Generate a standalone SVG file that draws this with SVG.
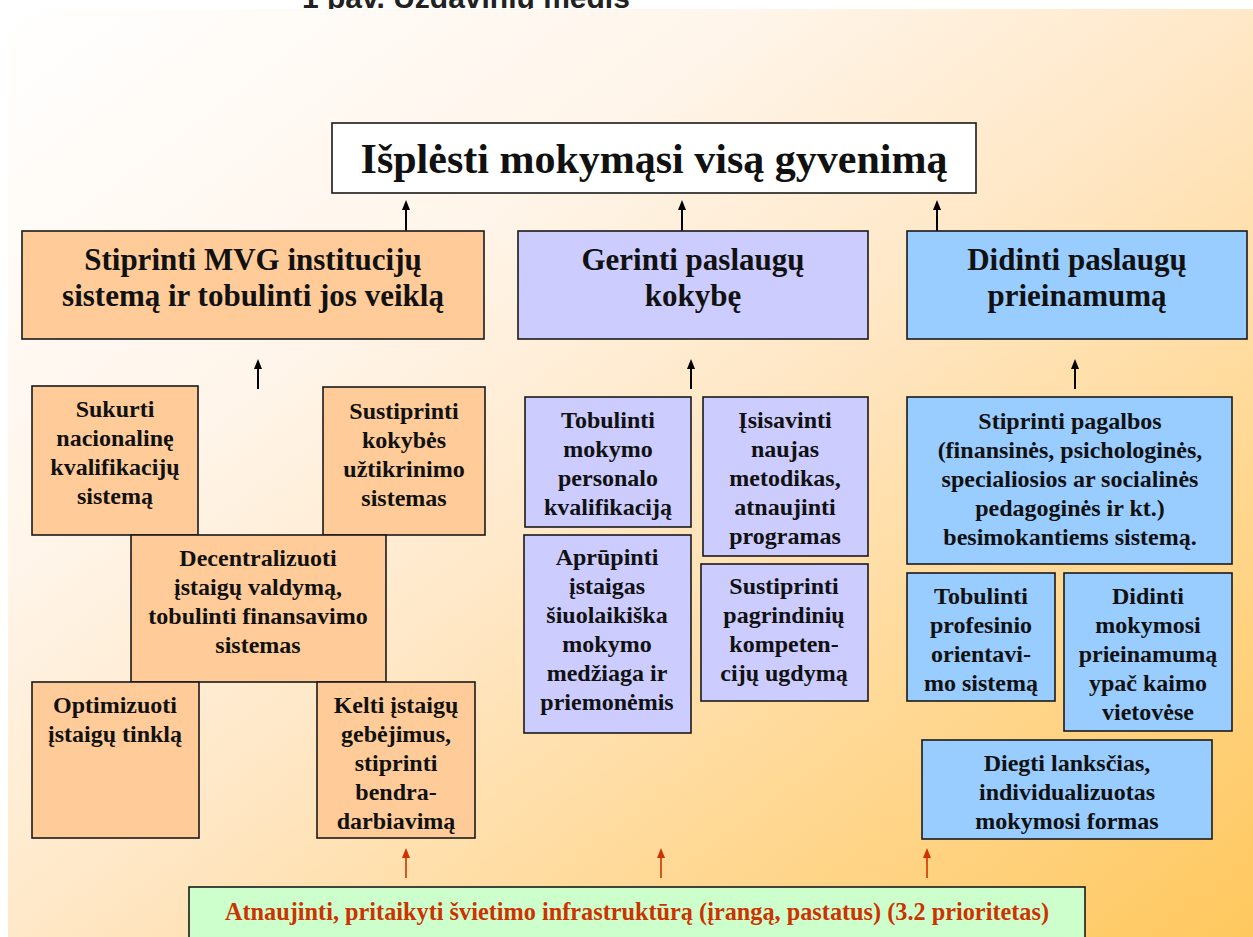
<svg xmlns="http://www.w3.org/2000/svg" width="1253" height="937" viewBox="0 0 1253 937">
<defs>
<linearGradient id="bg" x1="0" y1="0" x2="1" y2="1">
<stop offset="0" stop-color="#FFFFFF"/>
<stop offset="0.3" stop-color="#FFF5EA"/>
<stop offset="0.5" stop-color="#FFE8C8"/>
<stop offset="0.72" stop-color="#FFD997"/>
<stop offset="1" stop-color="#FFC85E"/>
</linearGradient>
<marker id="ah" viewBox="0 0 10 8" refX="3" refY="4" markerWidth="10" markerHeight="8" markerUnits="userSpaceOnUse" orient="auto">
<path d="M0,0 L10,4 L0,8 z" fill="#000"/>
</marker>
<marker id="ahr" viewBox="0 0 10 8" refX="3" refY="4" markerWidth="10" markerHeight="8" markerUnits="userSpaceOnUse" orient="auto">
<path d="M0,0 L10,4 L0,8 z" fill="#CC3300"/>
</marker>
</defs>
<style>
.box{stroke:#1a1a1a;stroke-width:1.6}
.or{fill:#FFCC99}
.pu{fill:#CCCCFF}
.bl{fill:#99CCFF}
.gr{fill:#CCFFCC}
.t{font-family:"Liberation Serif","Times New Roman",serif;font-weight:bold;fill:#111;text-anchor:middle}
.s{font-size:24px}
.m{font-size:31px}
.arr{stroke:#000;stroke-width:2;fill:none;marker-end:url(#ah)}
.arrr{stroke:#CC3300;stroke-width:1.6;fill:none;marker-end:url(#ahr)}
</style>
<rect x="0" y="0" width="1253" height="937" fill="#FFFFFF"/>
<text x="302" y="8" font-family="'Liberation Sans',Arial,sans-serif" font-weight="bold" font-size="30" fill="#222">1 pav. Uždavinių medis</text>
<rect x="8" y="9" width="1245" height="928" fill="url(#bg)"/>

<g id="connectors">
<line class="arr" x1="406" y1="231" x2="406" y2="207"/>
<line class="arr" x1="682" y1="231" x2="682" y2="207"/>
<line class="arr" x1="937" y1="231" x2="937" y2="207"/>
<line class="arr" x1="258" y1="389" x2="258" y2="366"/>
<line class="arr" x1="691" y1="389" x2="691" y2="366"/>
<line class="arr" x1="1075" y1="389" x2="1075" y2="366"/>
<line class="arrr" x1="406" y1="878" x2="406" y2="855"/>
<line class="arrr" x1="661" y1="878" x2="661" y2="855"/>
<line class="arrr" x1="927" y1="878" x2="927" y2="855"/>
</g>

<g id="goal">
<rect class="box" x="332" y="123" width="644" height="70" fill="#FFFFFF"/>
<text class="t" x="654" y="173" font-size="42">Išplėsti mokymąsi visą gyvenimą</text>
</g>

<g id="obj1">
<rect class="box or" x="22" y="231" width="462" height="108"/>
<text class="t m" x="253" y="270">Stiprinti MVG institucijų</text>
<text class="t m" x="253" y="306">sistemą ir tobulinti jos veiklą</text>
</g>
<g id="obj2">
<rect class="box pu" x="518" y="231" width="350" height="108"/>
<text class="t m" x="693" y="270">Gerinti paslaugų</text>
<text class="t m" x="693" y="306">kokybę</text>
</g>
<g id="obj3">
<rect class="box bl" x="907" y="231" width="340" height="108"/>
<text class="t m" x="1077" y="270">Didinti paslaugų</text>
<text class="t m" x="1077" y="306">prieinamumą</text>
</g>

<g id="o1a">
<rect class="box or" x="32" y="386" width="166" height="149"/>
<text class="t s" x="115" y="417">Sukurti</text>
<text class="t s" x="115" y="446">nacionalinę</text>
<text class="t s" x="115" y="475">kvalifikacijų</text>
<text class="t s" x="115" y="504">sistemą</text>
</g>
<g id="o1b">
<rect class="box or" x="323" y="387" width="162" height="148"/>
<text class="t s" x="404" y="419">Sustiprinti</text>
<text class="t s" x="404" y="448">kokybės</text>
<text class="t s" x="404" y="477">užtikrinimo</text>
<text class="t s" x="404" y="506">sistemas</text>
</g>
<g id="o1c">
<rect class="box or" x="131" y="535" width="255" height="147"/>
<text class="t s" x="258" y="566">Decentralizuoti</text>
<text class="t s" x="258" y="595">įstaigų valdymą,</text>
<text class="t s" x="258" y="624">tobulinti finansavimo</text>
<text class="t s" x="258" y="653">sistemas</text>
</g>
<g id="o1d">
<rect class="box or" x="32" y="682" width="167" height="156"/>
<text class="t s" x="115" y="713">Optimizuoti</text>
<text class="t s" x="115" y="742">įstaigų tinklą</text>
</g>
<g id="o1e">
<rect class="box or" x="317" y="682" width="158" height="156"/>
<text class="t s" x="396" y="713">Kelti įstaigų</text>
<text class="t s" x="396" y="742">gebėjimus,</text>
<text class="t s" x="396" y="771">stiprinti</text>
<text class="t s" x="396" y="800">bendra-</text>
<text class="t s" x="396" y="829">darbiavimą</text>
</g>

<g id="o2a">
<rect class="box pu" x="525" y="397" width="166" height="130"/>
<text class="t s" x="608" y="428">Tobulinti</text>
<text class="t s" x="608" y="457">mokymo</text>
<text class="t s" x="608" y="486">personalo</text>
<text class="t s" x="608" y="515">kvalifikaciją</text>
</g>
<g id="o2b">
<rect class="box pu" x="703" y="397" width="165" height="159"/>
<text class="t s" x="785" y="428">Įsisavinti</text>
<text class="t s" x="785" y="457">naujas</text>
<text class="t s" x="785" y="486">metodikas,</text>
<text class="t s" x="785" y="515">atnaujinti</text>
<text class="t s" x="785" y="544">programas</text>
</g>
<g id="o2c">
<rect class="box pu" x="524" y="535" width="167" height="198"/>
<text class="t s" x="607" y="565">Aprūpinti</text>
<text class="t s" x="607" y="594">įstaigas</text>
<text class="t s" x="607" y="623">šiuolaikiška</text>
<text class="t s" x="607" y="652">mokymo</text>
<text class="t s" x="607" y="681">medžiaga ir</text>
<text class="t s" x="607" y="710">priemonėmis</text>
</g>
<g id="o2d">
<rect class="box pu" x="701" y="564" width="167" height="137"/>
<text class="t s" x="784" y="594">Sustiprinti</text>
<text class="t s" x="784" y="623">pagrindinių</text>
<text class="t s" x="784" y="652">kompeten-</text>
<text class="t s" x="784" y="681">cijų ugdymą</text>
</g>

<g id="o3a">
<rect class="box bl" x="907" y="397" width="325" height="167"/>
<text class="t s" x="1070" y="429">Stiprinti pagalbos</text>
<text class="t s" x="1070" y="458">(finansinės, psichologinės,</text>
<text class="t s" x="1070" y="487">specialiosios ar socialinės</text>
<text class="t s" x="1070" y="516">pedagoginės ir kt.)</text>
<text class="t s" x="1070" y="545">besimokantiems sistemą.</text>
</g>
<g id="o3b">
<rect class="box bl" x="907" y="573" width="148" height="128"/>
<text class="t s" x="981" y="604">Tobulinti</text>
<text class="t s" x="981" y="633">profesinio</text>
<text class="t s" x="981" y="662">orientavi-</text>
<text class="t s" x="981" y="691">mo sistemą</text>
</g>
<g id="o3c">
<rect class="box bl" x="1064" y="573" width="168" height="158"/>
<text class="t s" x="1148" y="604">Didinti</text>
<text class="t s" x="1148" y="633">mokymosi</text>
<text class="t s" x="1148" y="662">prieinamumą</text>
<text class="t s" x="1148" y="691">ypač kaimo</text>
<text class="t s" x="1148" y="720">vietovėse</text>
</g>
<g id="o3d">
<rect class="box bl" x="922" y="740" width="290" height="99"/>
<text class="t s" x="1067" y="771">Diegti lanksčias,</text>
<text class="t s" x="1067" y="800">individualizuotas</text>
<text class="t s" x="1067" y="829">mokymosi formas</text>
</g>

<g id="infra">
<rect class="box gr" x="189" y="887" width="896" height="52"/>
<text x="637" y="920" font-family="'Liberation Serif','Times New Roman',serif" font-weight="bold" font-size="25" fill="#CC3300" text-anchor="middle" textLength="824" lengthAdjust="spacingAndGlyphs">Atnaujinti, pritaikyti švietimo infrastruktūrą (įrangą, pastatus) (3.2 prioritetas)</text>
</g>
</svg>
